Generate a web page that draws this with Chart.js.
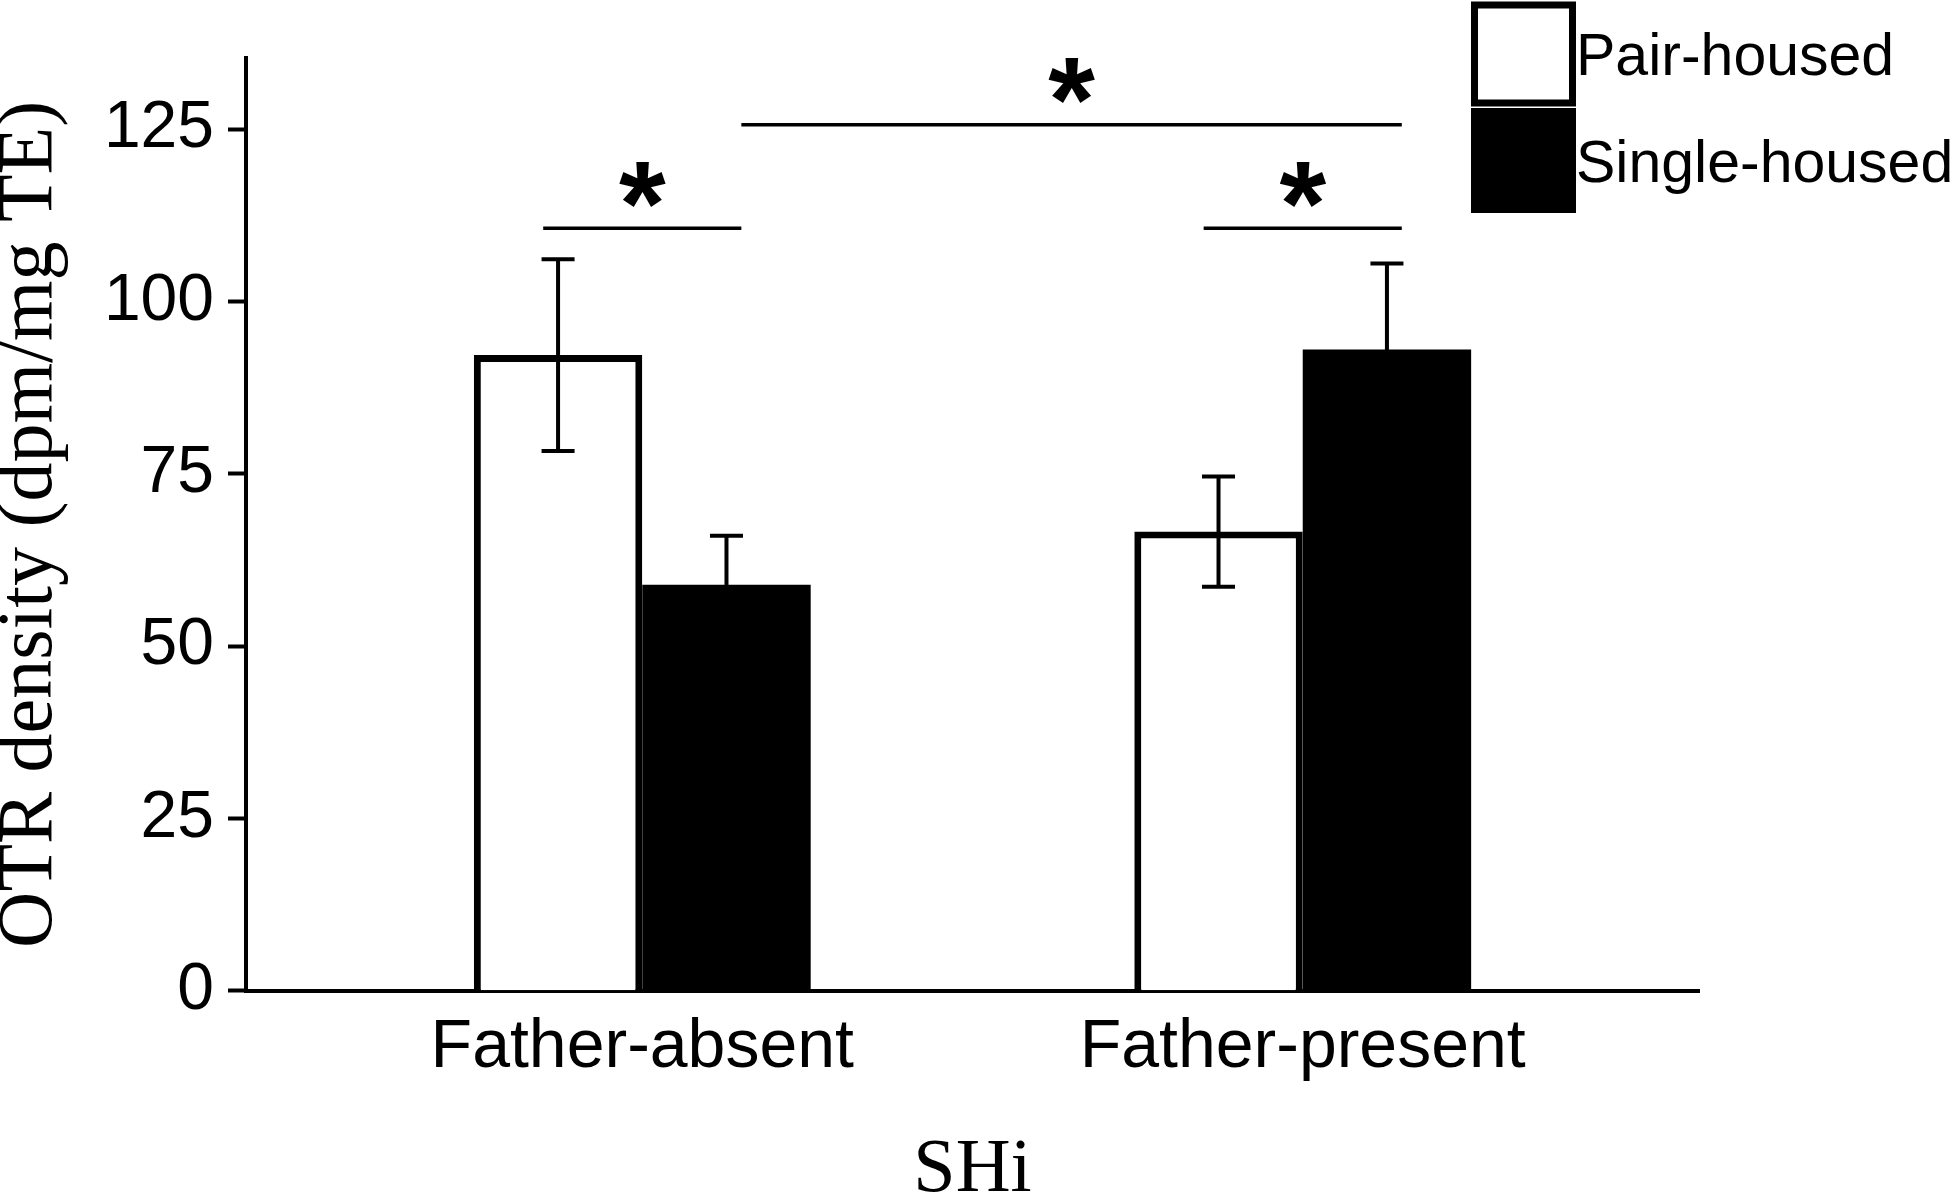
<!DOCTYPE html>
<html lang="en">
<head>
<meta charset="UTF-8">
<title>OTR density</title>
<script src="https://cdn.jsdelivr.net/npm/chart.js@4.4.1/dist/chart.umd.min.js"></script>
<style>
  html, body { margin: 0; padding: 0; background: #fff; }
</style>
</head>
<body>
<canvas id="myChart" width="1950" height="1201"></canvas>
<script>
    const groups = ['Father-absent', 'Father-present'];
    const seriesNames = ['Pair-housed', 'Single-housed'];
    const pairMeans = [92.2, 66.6];
    const pairErrors = [13.9, 8.0];
    const singleMeans = [58.9, 93.0];
    const singleErrors = [7.1, 12.5];
    const yTicks = [0, 25, 50, 75, 100, 125];
    // significance lines, in group units along x and OTR units along y
    const sigFrom = [-0.15, 0.15, 0.85];
    const sigTo = [0.15, 1.15, 1.15];
    const sigLevel = [110.6, 125.6, 110.6];
    const sigText = ['*', '*', '*'];

    const toPoints = (vals) => vals.map((v, i) => ({ x: i, y: v }));

    // error bars drawn on top of each bar
    const errorBars = {
        id: 'errorBars',
        afterDatasetsDraw(chart) {
            const ctx = chart.ctx;
            const y = chart.scales.y;
            chart.data.datasets.forEach((ds, di) => {
                const meta = chart.getDatasetMeta(di);
                meta.data.forEach((bar, i) => {
                    const m = ds.data[i].y;
                    const e = ds.errors[i];
                    const top = y.getPixelForValue(m + e);
                    const bot = y.getPixelForValue(m - e);
                    ctx.save();
                    ctx.strokeStyle = '#000';
                    ctx.lineWidth = 4;
                    ctx.beginPath();
                    ctx.moveTo(bar.x, top);
                    ctx.lineTo(bar.x, bot);
                    ctx.moveTo(bar.x - 16.5, top);
                    ctx.lineTo(bar.x + 16.5, top);
                    ctx.moveTo(bar.x - 16.5, bot);
                    ctx.lineTo(bar.x + 16.5, bot);
                    ctx.stroke();
                    ctx.restore();
                });
            });
        }
    };

    // significance lines and stars
    const sigMarks = {
        id: 'sigMarks',
        afterDraw(chart) {
            const ctx = chart.ctx;
            const x = chart.scales.x;
            const y = chart.scales.y;
            ctx.save();
            ctx.strokeStyle = '#000';
            ctx.fillStyle = '#000';
            ctx.lineWidth = 3.5;
            ctx.font = 'bold 120px "Liberation Sans", Arial, sans-serif';
            ctx.textAlign = 'center';
            ctx.textBaseline = 'alphabetic';
            sigFrom.forEach((f, i) => {
                const yy = y.getPixelForValue(sigLevel[i]);
                const x1 = x.getPixelForValue(f);
                const x2 = x.getPixelForValue(sigTo[i]);
                ctx.beginPath();
                ctx.moveTo(x1, yy);
                ctx.lineTo(x2, yy);
                ctx.stroke();
                const m = ctx.measureText(sigText[i]);
                const cy = yy - 44;
                ctx.fillText(sigText[i], (x1 + x2) / 2, cy + (m.actualBoundingBoxAscent - m.actualBoundingBoxDescent) / 2);
            });
            ctx.restore();
        }
    };

    // stacked square legend at the top right
    const boxLegend = {
        id: 'boxLegend',
        afterDraw(chart) {
            const ctx = chart.ctx;
            const left = 1471, size = 105, top = 1.5, gap = 1.5;
            ctx.save();
            ctx.font = '59px "Liberation Sans", Arial, sans-serif';
            ctx.textAlign = 'left';
            ctx.textBaseline = 'alphabetic';
            chart.data.datasets.forEach((ds, i) => {
                const by = top + i * (size + gap);
                ctx.fillStyle = ds.backgroundColor;
                ctx.fillRect(left, by, size, size);
                if (ds.borderWidth > 0) {
                    ctx.strokeStyle = ds.borderColor;
                    ctx.lineWidth = 7;
                    ctx.strokeRect(left + 3.5, by + 3.5, size - 7, size - 7);
                }
                ctx.fillStyle = '#000';
                ctx.fillText(ds.label, 1576, by + size / 2 + 0.358 * 59);
            });
            ctx.restore();
        }
    };

    const ctx = document.getElementById('myChart').getContext('2d');
    const myChart = new Chart(ctx, {
        type: 'bar',
        data: {
            datasets: [{
                label: seriesNames[0],
                data: toPoints(pairMeans),
                errors: pairErrors,
                backgroundColor: '#fff',
                borderColor: '#000',
                borderWidth: 7
            }, {
                label: seriesNames[1],
                data: toPoints(singleMeans),
                errors: singleErrors,
                backgroundColor: '#000',
                borderColor: '#000',
                borderWidth: 0
            }]
        },
        options: {
            responsive: false,
            animation: false,
            categoryPercentage: 0.51,
            barPercentage: 1,
            layout: { padding: { top: 58, right: 251, left: 0, bottom: 0 } },
            plugins: {
                legend: { display: false },
                tooltip: { enabled: false }
            },
            scales: {
                x: {
                    type: 'linear',
                    offset: false,
                    min: -0.6,
                    max: 1.6,
                    afterBuildTicks: (s) => { s.ticks = groups.map((g, i) => ({ value: i })); },
                    afterFit: (s) => { s.height = 1201 - 990.7; },
                    border: { display: true, color: '#000', width: 4 },
                    grid: { display: false, drawTicks: false, offset: false },
                    ticks: {
                        color: '#000',
                        font: { family: '"Liberation Sans", Arial, sans-serif', size: 68 },
                        padding: 17,
                        maxRotation: 0,
                        minRotation: 0,
                        autoSkip: false,
                        callback: (v) => groups[v]
                    },
                    title: {
                        display: true,
                        text: 'SHi',
                        color: '#000',
                        font: { family: '"Liberation Serif", "Times New Roman", serif', size: 76, lineHeight: 0.8 },
                        padding: 0
                    }
                },
                y: {
                    min: 0,
                    max: 135.3,
                    afterBuildTicks: (s) => { s.ticks = yTicks.map((v) => ({ value: v })); },
                    afterFit: (s) => { s.width = 246; },
                    border: { display: true, color: '#000', width: 4 },
                    grid: { drawOnChartArea: false, tickLength: 18, tickWidth: 4, tickColor: '#000' },
                    ticks: {
                        color: '#000',
                        font: { family: '"Liberation Sans", Arial, sans-serif', size: 66 },
                        padding: 14
                    },
                    title: {
                        display: true,
                        text: 'OTR density (dpm/mg TE)',
                        color: '#000',
                        font: { family: '"Liberation Serif", "Times New Roman", serif', size: 78, lineHeight: 0.79 },
                        padding: 0
                    }
                }
            }
        },
        plugins: [errorBars, sigMarks, boxLegend]
    });
</script>
</body>
</html>
